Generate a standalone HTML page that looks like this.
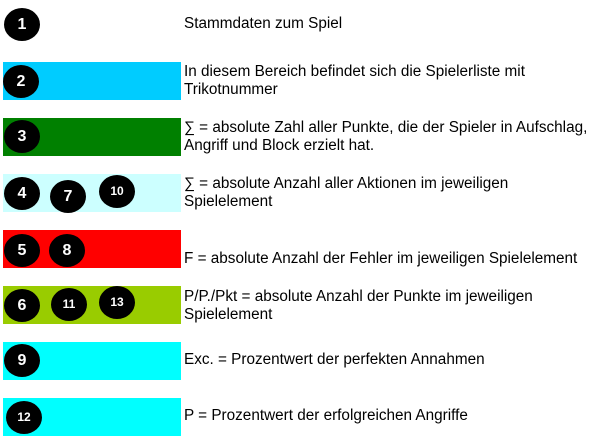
<!DOCTYPE html>
<html><head><style>
body{margin:0;width:600px;height:442px;background:#fff;position:relative;font-family:"Liberation Sans",sans-serif;overflow:hidden}
.b{position:absolute;left:3px;width:178px;height:38px}
.c{position:absolute;width:36px;height:33px;border-radius:50%;background:#000;color:#fff;font-weight:bold;font-size:16px;line-height:33px;text-align:center;margin:-16px 0 0 -18px}
.c.s{font-size:12px}
.t{position:absolute;left:184px;font-size:15.3px;line-height:18px;color:#000}
</style></head><body>
<div class="b" style="top:62px;background:#00ccff"></div>
<div class="b" style="top:118px;background:#008000"></div>
<div class="b" style="top:174px;background:#ccffff"></div>
<div class="b" style="top:230px;background:#ff0000"></div>
<div class="b" style="top:286px;background:#99cc00"></div>
<div class="b" style="top:342px;background:#00ffff"></div>
<div class="b" style="top:398px;background:#00ffff"></div>
<div class="c" style="left:22px;top:24px">1</div>
<div class="c" style="left:21px;top:81px">2</div>
<div class="c" style="left:22px;top:136px">3</div>
<div class="c" style="left:22px;top:193px">4</div>
<div class="c" style="left:68px;top:196px">7</div>
<div class="c s" style="left:117px;top:191px">10</div>
<div class="c" style="left:22px;top:250px">5</div>
<div class="c" style="left:67px;top:250px">8</div>
<div class="c" style="left:22px;top:305px">6</div>
<div class="c s" style="left:69px;top:304px">11</div>
<div class="c s" style="left:117px;top:302px">13</div>
<div class="c" style="left:22px;top:360px">9</div>
<div class="c s" style="left:24px;top:417px">12</div>
<div class="t" style="top:15px">Stammdaten zum Spiel</div>
<div class="t" style="top:63px">In diesem Bereich befindet sich die Spielerliste mit<br>Trikotnummer</div>
<div class="t" style="top:119px">∑ = absolute Zahl aller Punkte, die der Spieler in Aufschlag,<br>Angriff und Block erzielt hat.</div>
<div class="t" style="top:175px">∑ = absolute Anzahl aller Aktionen im jeweiligen<br>Spielelement</div>
<div class="t" style="top:250px">F = absolute Anzahl der Fehler im jeweiligen Spielelement</div>
<div class="t" style="top:288px">P/P./Pkt = absolute Anzahl der Punkte im jeweiligen<br>Spielelement</div>
<div class="t" style="top:351px">Exc. = Prozentwert der perfekten Annahmen</div>
<div class="t" style="top:407px">P = Prozentwert der erfolgreichen Angriffe</div>
</body></html>
